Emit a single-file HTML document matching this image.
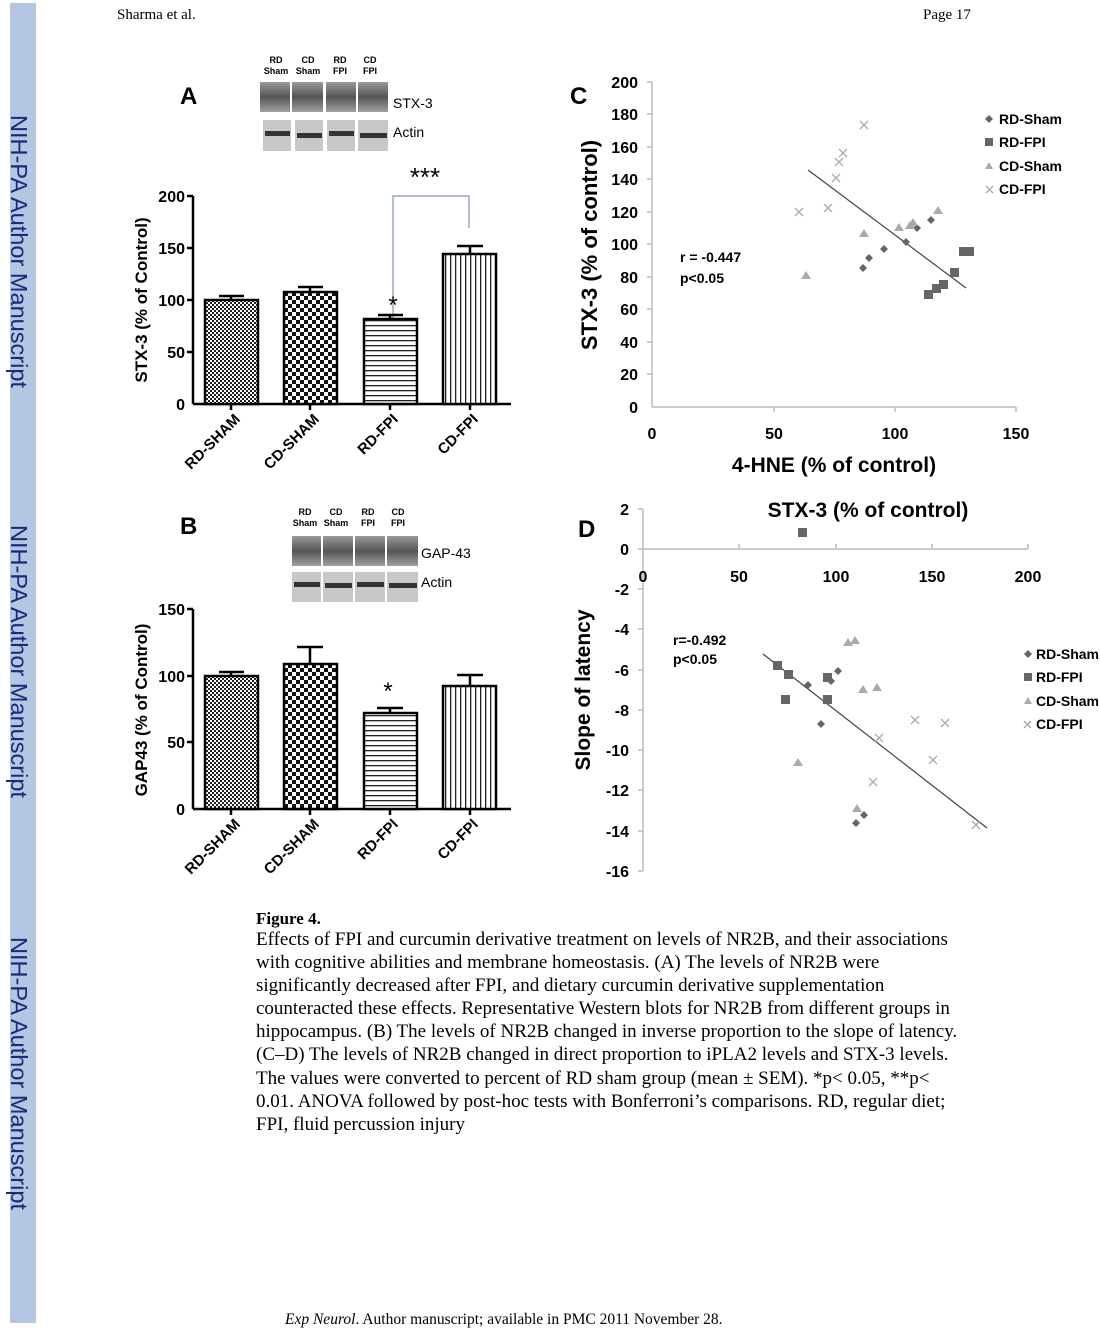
<!DOCTYPE html>
<html><head><meta charset="utf-8"><style>
html,body{margin:0;padding:0;background:#fff}
body{width:1100px;height:1332px;position:relative;overflow:hidden}
svg{position:absolute;left:0;top:0}
.s{font-family:"Liberation Sans",sans-serif;font-weight:bold}
.r{font-family:"Liberation Serif",serif}
</style></head><body>
<svg width="1100" height="1332" viewBox="0 0 1100 1332" xmlns="http://www.w3.org/2000/svg">
<defs>
<pattern id="p1" width="4" height="4" patternUnits="userSpaceOnUse"><rect width="4" height="4" fill="#fff"/><rect width="2" height="2" fill="#222"/><rect x="2" y="2" width="2" height="2" fill="#222"/></pattern>
<pattern id="p2" width="8" height="8" patternUnits="userSpaceOnUse"><rect width="8" height="8" fill="#fff"/><rect width="4" height="4" fill="#111"/><rect x="4" y="4" width="4" height="4" fill="#111"/></pattern>
<pattern id="p3" width="6" height="5" patternUnits="userSpaceOnUse"><rect width="6" height="5" fill="#fff"/><rect width="6" height="1.3" fill="#222"/></pattern>
<pattern id="p4" width="5" height="6" patternUnits="userSpaceOnUse"><rect width="5" height="6" fill="#fff"/><rect width="1.3" height="6" fill="#222"/></pattern>
<linearGradient id="band" x1="0" y1="0" x2="0" y2="1"><stop offset="0" stop-color="#9a9a9a"/><stop offset="0.5" stop-color="#555"/><stop offset="1" stop-color="#a0a0a0"/></linearGradient>
</defs>
<rect x="10" y="3" width="26" height="1320" fill="#b4c6e2"/>
<g font-family="Liberation Sans,sans-serif" font-size="23" fill="#1a2a7a">
<text transform="translate(11,115) rotate(90)" textLength="273" lengthAdjust="spacingAndGlyphs">NIH-PA Author Manuscript</text>
<text transform="translate(11,525) rotate(90)" textLength="273" lengthAdjust="spacingAndGlyphs">NIH-PA Author Manuscript</text>
<text transform="translate(11,937) rotate(90)" textLength="273" lengthAdjust="spacingAndGlyphs">NIH-PA Author Manuscript</text>
</g>
<text class="r" x="117" y="19" font-size="15">Sharma et al.</text>
<text class="r" x="923" y="19" font-size="15">Page 17</text>

<!-- Panel A -->
<text class="s" x="180" y="104" font-size="24">A</text>
<g class="s" font-size="9" text-anchor="middle"><text x="276" y="63">RD</text><text x="276" y="74">Sham</text><text x="308" y="63">CD</text><text x="308" y="74">Sham</text><text x="340" y="63">RD</text><text x="340" y="74">FPI</text><text x="370" y="63">CD</text><text x="370" y="74">FPI</text></g>
<g><rect x="260" y="82" width="30" height="30" fill="url(#band)"/><rect x="292" y="82" width="31" height="30" fill="url(#band)"/><rect x="326" y="82" width="30" height="30" fill="url(#band)"/><rect x="358" y="82" width="30" height="30" fill="url(#band)"/>
<rect x="263" y="120" width="28" height="31" fill="#c8c8c8"/><rect x="295" y="120" width="28" height="31" fill="#c8c8c8"/><rect x="327" y="120" width="28" height="31" fill="#c8c8c8"/><rect x="358" y="120" width="30" height="31" fill="#c8c8c8"/>
<rect x="265" y="131" width="25" height="5" fill="#333"/><rect x="297" y="133" width="25" height="5" fill="#333"/><rect x="329" y="131" width="25" height="5" fill="#333"/><rect x="360" y="133" width="27" height="5" fill="#333"/></g>
<text x="393" y="108" font-family="Liberation Sans" font-size="14">STX-3</text>
<text x="393" y="137" font-family="Liberation Sans" font-size="14">Actin</text>
<text x="425" y="186" font-family="Liberation Sans" font-size="26" text-anchor="middle">***</text>
<polyline points="393,318 393,196 469,196 469,228" fill="none" stroke="#7f95b5" stroke-width="1.2"/>
<text x="393" y="313" font-family="Liberation Sans" font-size="24" text-anchor="middle">*</text>
<g stroke="#000" stroke-width="2.5">
<line x1="193" y1="196" x2="193" y2="404"/><line x1="193" y1="404" x2="511" y2="404"/>
<line x1="187" y1="196" x2="193" y2="196"/><line x1="187" y1="248" x2="193" y2="248"/><line x1="187" y1="300" x2="193" y2="300"/><line x1="187" y1="352" x2="193" y2="352"/>
<line x1="231" y1="404" x2="231" y2="410"/><line x1="310" y1="404" x2="310" y2="410"/><line x1="390" y1="404" x2="390" y2="410"/><line x1="470" y1="404" x2="470" y2="410"/>
<line x1="231" y1="300" x2="231" y2="296"/><line x1="219" y1="296" x2="244" y2="296"/>
<line x1="310" y1="292" x2="310" y2="287"/><line x1="298" y1="287" x2="323" y2="287"/>
<line x1="390" y1="319" x2="390" y2="315"/><line x1="378" y1="315" x2="403" y2="315"/>
<line x1="470" y1="254" x2="470" y2="246"/><line x1="457" y1="246" x2="483" y2="246"/>
<rect x="205" y="300" width="53" height="104" fill="url(#p1)"/>
<rect x="284" y="292" width="53" height="112" fill="url(#p2)"/>
<rect x="364" y="319" width="53" height="85" fill="url(#p3)"/>
<rect x="443" y="254" width="53" height="150" fill="url(#p4)"/>
</g>
<g class="s" font-size="16" text-anchor="end"><text x="185" y="202">200</text><text x="185" y="254">150</text><text x="185" y="306">100</text><text x="185" y="358">50</text><text x="185" y="410">0</text></g>
<text class="s" transform="translate(147,300) rotate(-90)" font-size="17" text-anchor="middle">STX-3 (% of Control)</text>
<g class="s" font-size="15" text-anchor="end"><text transform="translate(241,420) rotate(-45)">RD-SHAM</text><text transform="translate(320,420) rotate(-45)">CD-SHAM</text><text transform="translate(399,420) rotate(-45)">RD-FPI</text><text transform="translate(479,420) rotate(-45)">CD-FPI</text></g>

<!-- Panel B -->
<text class="s" x="180" y="534" font-size="24">B</text>
<g class="s" font-size="9" text-anchor="middle"><text x="305" y="515">RD</text><text x="305" y="526">Sham</text><text x="336" y="515">CD</text><text x="336" y="526">Sham</text><text x="368" y="515">RD</text><text x="368" y="526">FPI</text><text x="398" y="515">CD</text><text x="398" y="526">FPI</text></g>
<g><rect x="292" y="536" width="29" height="30" fill="url(#band)"/><rect x="323" y="536" width="30" height="30" fill="url(#band)"/><rect x="355" y="536" width="30" height="30" fill="url(#band)"/><rect x="387" y="536" width="31" height="30" fill="url(#band)"/>
<rect x="292" y="572" width="29" height="30" fill="#c8c8c8"/><rect x="323" y="572" width="30" height="30" fill="#c8c8c8"/><rect x="355" y="572" width="30" height="30" fill="#c8c8c8"/><rect x="387" y="572" width="31" height="30" fill="#c8c8c8"/>
<rect x="294" y="582" width="26" height="5" fill="#333"/><rect x="325" y="583" width="27" height="5" fill="#333"/><rect x="357" y="582" width="27" height="5" fill="#333"/><rect x="389" y="583" width="28" height="5" fill="#333"/></g>
<text x="421" y="558" font-family="Liberation Sans" font-size="14">GAP-43</text>
<text x="421" y="587" font-family="Liberation Sans" font-size="14">Actin</text>
<text x="388" y="699" font-family="Liberation Sans" font-size="24" text-anchor="middle">*</text>
<g stroke="#000" stroke-width="2.5">
<line x1="193" y1="609" x2="193" y2="809"/><line x1="193" y1="809" x2="511" y2="809"/>
<line x1="187" y1="609" x2="193" y2="609"/><line x1="187" y1="676" x2="193" y2="676"/><line x1="187" y1="742" x2="193" y2="742"/>
<line x1="231" y1="809" x2="231" y2="815"/><line x1="310" y1="809" x2="310" y2="815"/><line x1="390" y1="809" x2="390" y2="815"/><line x1="470" y1="809" x2="470" y2="815"/>
<line x1="231" y1="676" x2="231" y2="672"/><line x1="219" y1="672" x2="244" y2="672"/>
<line x1="310" y1="664" x2="310" y2="647"/><line x1="297" y1="647" x2="323" y2="647"/>
<line x1="390" y1="713" x2="390" y2="708"/><line x1="377" y1="708" x2="403" y2="708"/>
<line x1="470" y1="686" x2="470" y2="675"/><line x1="457" y1="675" x2="483" y2="675"/>
<rect x="205" y="676" width="53" height="133" fill="url(#p1)"/>
<rect x="284" y="664" width="53" height="145" fill="url(#p2)"/>
<rect x="364" y="713" width="53" height="96" fill="url(#p3)"/>
<rect x="443" y="686" width="53" height="123" fill="url(#p4)"/>
</g>
<g class="s" font-size="16" text-anchor="end"><text x="185" y="615">150</text><text x="185" y="682">100</text><text x="185" y="748">50</text><text x="185" y="815">0</text></g>
<text class="s" transform="translate(147,710) rotate(-90)" font-size="17" text-anchor="middle">GAP43 (% of Control)</text>
<g class="s" font-size="15" text-anchor="end"><text transform="translate(241,825) rotate(-45)">RD-SHAM</text><text transform="translate(320,825) rotate(-45)">CD-SHAM</text><text transform="translate(399,825) rotate(-45)">RD-FPI</text><text transform="translate(479,825) rotate(-45)">CD-FPI</text></g>

<!-- Panel C -->
<text class="s" x="570" y="104" font-size="24">C</text>
<g stroke="#bbb" stroke-width="1.5"><line x1="652" y1="82" x2="652" y2="407"/><line x1="652" y1="407" x2="1016" y2="407"/>
<line x1="647" y1="82" x2="652" y2="82"/><line x1="647" y1="114" x2="652" y2="114"/><line x1="647" y1="147" x2="652" y2="147"/><line x1="647" y1="179" x2="652" y2="179"/><line x1="647" y1="212" x2="652" y2="212"/><line x1="647" y1="244" x2="652" y2="244"/><line x1="647" y1="277" x2="652" y2="277"/><line x1="647" y1="309" x2="652" y2="309"/><line x1="647" y1="342" x2="652" y2="342"/><line x1="647" y1="374" x2="652" y2="374"/>
<line x1="774" y1="407" x2="774" y2="412"/><line x1="895" y1="407" x2="895" y2="412"/><line x1="1016" y1="407" x2="1016" y2="412"/></g>
<g class="s" font-size="16" text-anchor="end"><text x="638" y="88">200</text><text x="638" y="120">180</text><text x="638" y="153">160</text><text x="638" y="185">140</text><text x="638" y="218">120</text><text x="638" y="250">100</text><text x="638" y="283">80</text><text x="638" y="315">60</text><text x="638" y="348">40</text><text x="638" y="380">20</text><text x="638" y="413">0</text></g>
<g class="s" font-size="16" text-anchor="middle"><text x="652" y="439">0</text><text x="774" y="439">50</text><text x="895" y="439">100</text><text x="1016" y="439">150</text></g>
<text class="s" x="834" y="472" font-size="21" text-anchor="middle">4-HNE (% of control)</text>
<text class="s" transform="translate(597,245) rotate(-90)" font-size="22" text-anchor="middle">STX-3 (% of control)</text>
<text class="s" x="680" y="262" font-size="14">r = -0.447</text><text class="s" x="680" y="283" font-size="14">p&lt;0.05</text>
<line x1="808" y1="170" x2="966" y2="288" stroke="#444" stroke-width="1.2"/>
<g fill="#666"><path d="M863,264l4,4l-4,4l-4,-4z"/><path d="M869,254l4,4l-4,4l-4,-4z"/><path d="M884,245l4,4l-4,4l-4,-4z"/><path d="M906,238l4,4l-4,4l-4,-4z"/><path d="M917,224l4,4l-4,4l-4,-4z"/><path d="M931,216l4,4l-4,4l-4,-4z"/></g>
<g fill="#666"><rect x="924" y="290" width="9" height="9"/><rect x="932" y="284" width="9" height="9"/><rect x="939" y="280" width="9" height="9"/><rect x="950" y="268" width="9" height="9"/><rect x="959" y="247" width="9" height="9"/><rect x="965" y="247" width="9" height="9"/></g>
<g fill="#aaa"><path d="M806,271l5,8h-10z"/><path d="M864,229l5,8h-10z"/><path d="M899,223l5,8h-10z"/><path d="M910,221l5,8h-10z"/><path d="M913,218l5,8h-10z"/><path d="M938,206l5,8h-10z"/></g>
<g stroke="#aaa" stroke-width="1.3" fill="none"><path d="M795,208l8,8M803,208l-8,8"/><path d="M824,204l8,8M832,204l-8,8"/><path d="M832,174l8,8M840,174l-8,8"/><path d="M835,158l8,8M843,158l-8,8"/><path d="M839,149l8,8M847,149l-8,8"/><path d="M860,121l8,8M868,121l-8,8"/></g>
<g class="s" font-size="14"><text x="999" y="124">RD-Sham</text><text x="999" y="147">RD-FPI</text><text x="999" y="171">CD-Sham</text><text x="999" y="194">CD-FPI</text></g>
<path d="M989,115l4,4l-4,4l-4,-4z" fill="#666"/><rect x="985" y="138" width="8" height="8" fill="#666"/><path d="M989,162l4,7h-8z" fill="#aaa"/><path d="M986,186l7,7M993,186l-7,7" stroke="#aaa" stroke-width="1.3"/>

<!-- Panel D -->
<text class="s" x="578" y="537" font-size="24">D</text>
<text class="s" x="868" y="517" font-size="21" text-anchor="middle">STX-3 (% of control)</text>
<g stroke="#bbb" stroke-width="1.5"><line x1="643" y1="509" x2="643" y2="871"/><line x1="643" y1="549" x2="1028" y2="549"/>
<line x1="739" y1="549" x2="739" y2="544"/><line x1="836" y1="549" x2="836" y2="544"/><line x1="932" y1="549" x2="932" y2="544"/><line x1="1028" y1="549" x2="1028" y2="544"/>
<line x1="638" y1="509" x2="643" y2="509"/><line x1="638" y1="549" x2="643" y2="549"/><line x1="638" y1="589" x2="643" y2="589"/><line x1="638" y1="629" x2="643" y2="629"/><line x1="638" y1="670" x2="643" y2="670"/><line x1="638" y1="710" x2="643" y2="710"/><line x1="638" y1="750" x2="643" y2="750"/><line x1="638" y1="790" x2="643" y2="790"/><line x1="638" y1="831" x2="643" y2="831"/><line x1="638" y1="871" x2="643" y2="871"/></g>
<g class="s" font-size="16" text-anchor="end"><text x="629" y="515">2</text><text x="629" y="555">0</text><text x="629" y="595">-2</text><text x="629" y="635">-4</text><text x="629" y="676">-6</text><text x="629" y="716">-8</text><text x="629" y="756">-10</text><text x="629" y="796">-12</text><text x="629" y="837">-14</text><text x="629" y="877">-16</text></g>
<g class="s" font-size="16" text-anchor="middle"><text x="643" y="582">0</text><text x="739" y="582">50</text><text x="836" y="582">100</text><text x="932" y="582">150</text><text x="1028" y="582">200</text></g>
<text class="s" transform="translate(590,690) rotate(-90)" font-size="21" text-anchor="middle">Slope of latency</text>
<text class="s" x="673" y="645" font-size="14">r=-0.492</text><text class="s" x="673" y="664" font-size="14">p&lt;0.05</text>
<line x1="763" y1="654" x2="987" y2="828" stroke="#444" stroke-width="1.2"/>
<g fill="#666"><rect x="773" y="661" width="9" height="9"/><rect x="784" y="670" width="9" height="9"/><rect x="781" y="695" width="9" height="9"/><rect x="823" y="673" width="9" height="9"/><rect x="823" y="695" width="9" height="9"/><rect x="798" y="528" width="9" height="9"/></g>
<g fill="#666"><path d="M808,681l4,4l-4,4l-4,-4z"/><path d="M831,677l4,4l-4,4l-4,-4z"/><path d="M838,667l4,4l-4,4l-4,-4z"/><path d="M821,720l4,4l-4,4l-4,-4z"/><path d="M856,819l4,4l-4,4l-4,-4z"/><path d="M864,811l4,4l-4,4l-4,-4z"/></g>
<g fill="#aaa"><path d="M848,638l5,8h-10z"/><path d="M855,636l5,8h-10z"/><path d="M863,685l5,8h-10z"/><path d="M877,683l5,8h-10z"/><path d="M798,758l5,8h-10z"/><path d="M857,804l5,8h-10z"/></g>
<g stroke="#aaa" stroke-width="1.3" fill="none"><path d="M911,716l8,8M919,716l-8,8"/><path d="M941,719l8,8M949,719l-8,8"/><path d="M875,734l8,8M883,734l-8,8"/><path d="M929,756l8,8M937,756l-8,8"/><path d="M869,778l8,8M877,778l-8,8"/><path d="M972,821l8,8M980,821l-8,8"/></g>
<g class="s" font-size="14"><text x="1036" y="659">RD-Sham</text><text x="1036" y="682">RD-FPI</text><text x="1036" y="706">CD-Sham</text><text x="1036" y="729">CD-FPI</text></g>
<path d="M1028,650l4,4l-4,4l-4,-4z" fill="#666"/><rect x="1024" y="673" width="8" height="8" fill="#666"/><path d="M1028,697l4,7h-8z" fill="#aaa"/><path d="M1024,721l7,7M1031,721l-7,7" stroke="#aaa" stroke-width="1.3"/>

<!-- caption -->
<g class="r" font-size="19">
<text x="256" y="924" font-weight="bold" font-size="17">Figure 4.</text>
<text x="256" y="945">Effects of FPI and curcumin derivative treatment on levels of NR2B, and their associations</text>
<text x="256" y="968">with cognitive abilities and membrane homeostasis. (A) The levels of NR2B were</text>
<text x="256" y="991">significantly decreased after FPI, and dietary curcumin derivative supplementation</text>
<text x="256" y="1014">counteracted these effects. Representative Western blots for NR2B from different groups in</text>
<text x="256" y="1037">hippocampus. (B) The levels of NR2B changed in inverse proportion to the slope of latency.</text>
<text x="256" y="1060">(C–D) The levels of NR2B changed in direct proportion to iPLA2 levels and STX-3 levels.</text>
<text x="256" y="1084">The values were converted to percent of RD sham group (mean ± SEM). *p&lt; 0.05, **p&lt;</text>
<text x="256" y="1107">0.01. ANOVA followed by post-hoc tests with Bonferroni’s comparisons. RD, regular diet;</text>
<text x="256" y="1130">FPI, fluid percussion injury</text>
</g>
<text class="r" x="285" y="1324" font-size="15.5"><tspan font-style="italic">Exp Neurol</tspan>. Author manuscript; available in PMC 2011 November 28.</text>
</svg>
</body></html>
